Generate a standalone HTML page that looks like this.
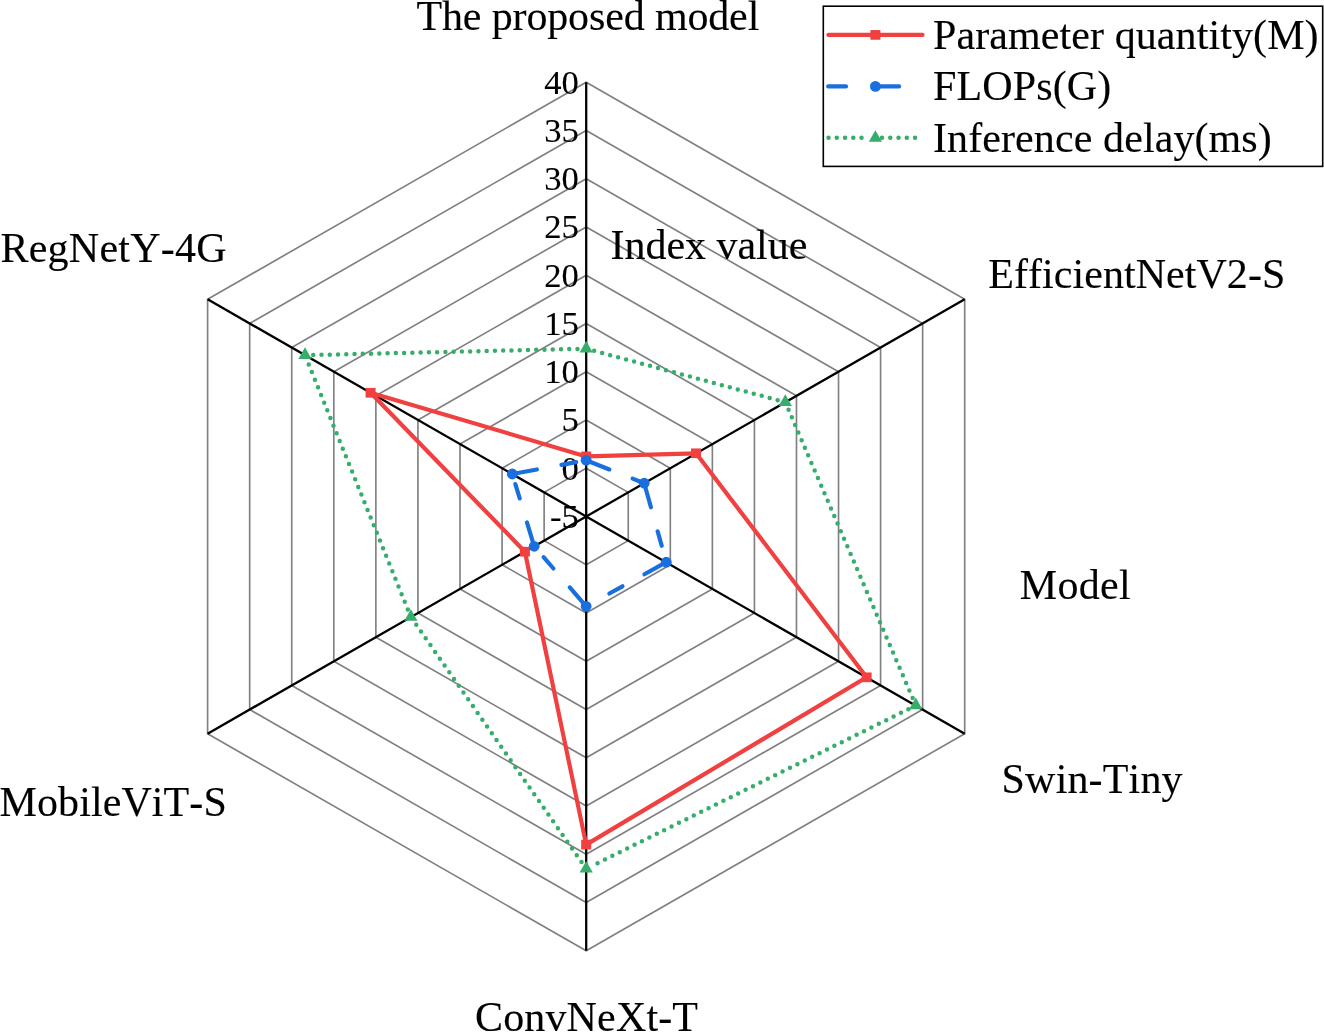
<!DOCTYPE html>
<html lang="en">
<head>
<meta charset="utf-8">
<title>Radar chart - model comparison</title>
<style>
html,body{margin:0;padding:0;background:#fff;}
body{width:1324px;height:1032px;overflow:hidden;}
svg{display:block;}
text{font-kerning:none;font-variant-ligatures:none;font-family:"Liberation Serif","Times New Roman",serif;font-size:42px;fill:#000;stroke:#000;stroke-width:0.12px;}
</style>
</head>
<body>
<svg width="1324" height="1032" viewBox="0 0 1324 1032">
<rect width="1324" height="1032" fill="#fff"/>
<g fill="none" stroke="#808080" stroke-width="1.65">
<polygon points="586.2,468.24 628.26,492.37 628.26,540.63 586.2,564.76 544.13,540.63 544.13,492.37"/>
<polygon points="586.2,419.99 670.31,468.23 670.31,564.77 586.2,613.01 502.07,564.77 502.07,468.23"/>
<polygon points="586.2,371.73 712.37,444.1 712.37,588.9 586.2,661.27 460,588.9 460,444.1"/>
<polygon points="586.2,323.48 754.42,419.97 754.42,613.03 586.2,709.52 417.93,613.03 417.93,419.97"/>
<polygon points="586.2,275.22 796.48,395.83 796.48,637.17 586.2,757.78 375.87,637.17 375.87,395.83"/>
<polygon points="586.2,226.97 838.53,371.7 838.53,661.3 586.2,806.03 333.8,661.3 333.8,371.7"/>
<polygon points="586.2,178.71 880.59,347.57 880.59,685.43 586.2,854.29 291.73,685.43 291.73,347.57"/>
<polygon points="586.2,130.46 922.64,323.43 922.64,709.57 586.2,902.54 249.67,709.57 249.67,323.43"/>
<polygon points="586.2,82.2 964.7,299.3 964.7,733.7 586.2,950.8 207.6,733.7 207.6,299.3"/>
</g>
<g text-anchor="end">
<text x="578.9" y="527.9" style="font-size:34.6px;stroke-width:0.12px">-5</text>
<text x="578.9" y="479.64" style="font-size:34.6px;stroke-width:0.12px">0</text>
<text x="578.9" y="431.39" style="font-size:34.6px;stroke-width:0.12px">5</text>
<text x="578.9" y="383.13" style="font-size:34.6px;stroke-width:0.12px">10</text>
<text x="578.9" y="334.88" style="font-size:34.6px;stroke-width:0.12px">15</text>
<text x="578.9" y="286.62" style="font-size:34.6px;stroke-width:0.12px">20</text>
<text x="578.9" y="238.37" style="font-size:34.6px;stroke-width:0.12px">25</text>
<text x="578.9" y="190.11" style="font-size:34.6px;stroke-width:0.12px">30</text>
<text x="578.9" y="141.86" style="font-size:34.6px;stroke-width:0.12px">35</text>
<text x="578.9" y="93.6" style="font-size:34.6px;stroke-width:0.12px">40</text>
</g>
<g stroke="#000" stroke-width="2.3" stroke-linecap="butt">
<line x1="586.2" y1="516.5" x2="586.2" y2="82.2"/>
<line x1="586.2" y1="516.5" x2="964.7" y2="299.3"/>
<line x1="586.2" y1="516.5" x2="964.7" y2="733.7"/>
<line x1="586.2" y1="516.5" x2="586.2" y2="950.8"/>
<line x1="586.2" y1="516.5" x2="207.6" y2="733.7"/>
<line x1="586.2" y1="516.5" x2="207.6" y2="299.3"/>
</g>
<text x="416.5" y="29.8" textLength="342.8" lengthAdjust="spacing">The proposed model</text>
<text x="0.4" y="261.5" textLength="226.3" lengthAdjust="spacing">RegNetY-4G</text>
<text x="988.3" y="287.7" textLength="297.0" lengthAdjust="spacing">EfficientNetV2-S</text>
<text x="1019.8" y="598.7" textLength="110.8" lengthAdjust="spacing">Model</text>
<text x="1001.6" y="792.9" textLength="181.0" lengthAdjust="spacing">Swin-Tiny</text>
<text x="-0.5" y="816.4" textLength="227.3" lengthAdjust="spacing">MobileViT-S</text>
<text x="475.0" y="1031.0" textLength="223.0" lengthAdjust="spacing">ConvNeXt-T</text>
<text x="610.5" y="259.2" textLength="196.9" lengthAdjust="spacing">Index value</text>
<g stroke="#F14040" fill="none" stroke-width="4.17" stroke-linejoin="round" stroke-linecap="round">
<polygon points="586.2,456.4 696.05,453.3 866.6,677.3 586.2,844.6 524.9,551.7 370.6,392.8"/>
</g>
<g fill="#F14040">
<rect x="581.2" y="451.55" width="10" height="9.7"/>
<rect x="691.05" y="448.45" width="10" height="9.7"/>
<rect x="861.6" y="672.45" width="10" height="9.7"/>
<rect x="581.2" y="839.75" width="10" height="9.7"/>
<rect x="519.9" y="546.85" width="10" height="9.7"/>
<rect x="365.6" y="387.95" width="10" height="9.7"/>
</g>
<g stroke="#1A6FDF" fill="none" stroke-width="4.17" stroke-linecap="round" stroke-dasharray="25 25 15 400">
<line x1="586.1" y1="460.3" x2="644.2" y2="483.2"/>
<line x1="644.2" y1="483.2" x2="666.3" y2="562.2"/>
<line x1="666.3" y1="562.2" x2="586.15" y2="606.3"/>
<line x1="586.15" y1="606.3" x2="534.2" y2="546.3"/>
<line x1="534.2" y1="546.3" x2="512.3" y2="474"/>
<line x1="512.3" y1="474" x2="586.1" y2="460.3"/>
</g>
<g fill="#1A6FDF">
<circle cx="586.1" cy="460.3" r="5.4"/>
<circle cx="644.2" cy="483.2" r="5.4"/>
<circle cx="666.3" cy="562.2" r="5.4"/>
<circle cx="586.15" cy="606.3" r="5.4"/>
<circle cx="534.2" cy="546.3" r="5.4"/>
<circle cx="512.3" cy="474" r="5.4"/>
</g>
<g stroke="#37AD6B" fill="none" stroke-width="4.5" stroke-linecap="round" stroke-dasharray="0 8.26">
<line x1="586.2" y1="348.7" x2="779.51" y2="400.64"/>
<line x1="785.3" y1="402.2" x2="913.43" y2="699.99"/>
<line x1="915.8" y1="705.5" x2="591.58" y2="866.14"/>
<line x1="586.2" y1="868.8" x2="414.33" y2="622.02"/>
<line x1="410.9" y1="617.1" x2="307.25" y2="360.76"/>
<line x1="305" y1="355.2" x2="580.2" y2="348.84"/>
</g>
<g fill="#37AD6B">
<polygon points="586.2,340.8 592.8,352.4 579.6,352.4"/>
<polygon points="785.3,394.3 791.9,405.9 778.7,405.9"/>
<polygon points="915.8,697.6 922.4,709.2 909.2,709.2"/>
<polygon points="586.2,860.9 592.8,872.5 579.6,872.5"/>
<polygon points="410.9,609.2 417.5,620.8 404.3,620.8"/>
<polygon points="305,347.3 311.6,358.9 298.4,358.9"/>
</g>
<rect x="823.3" y="6.2" width="499.4" height="160.2" fill="#fff" stroke="#000" stroke-width="1.6"/>
<line x1="828.4" y1="34.9" x2="922.5" y2="34.9" stroke="#F14040" stroke-width="4.17" stroke-linecap="round"/>
<rect x="870.4" y="30.049999999999997" width="10" height="9.7" fill="#F14040"/>
<g stroke="#1A6FDF" stroke-width="4.17" stroke-linecap="round"><line x1="828.2" y1="86.4" x2="846" y2="86.4"/><line x1="876" y1="86.4" x2="899.1" y2="86.4"/></g>
<circle cx="875.4" cy="86.4" r="5.4" fill="#1A6FDF"/>
<g stroke="#37AD6B" stroke-width="4.5" stroke-linecap="round" stroke-dasharray="0 8.26"><line x1="828.5" y1="137.8" x2="866" y2="137.8"/><line x1="882" y1="137.8" x2="919" y2="137.8"/></g>
<g fill="#37AD6B"><polygon points="875.4,130.15 882,141.75 868.8,141.75"/></g>
<text x="933" y="48.8" textLength="385.6" lengthAdjust="spacing">Parameter quantity(M)</text>
<text x="933" y="100.1" textLength="178.3" lengthAdjust="spacing">FLOPs(G)</text>
<text x="933" y="151.7" textLength="338.8" lengthAdjust="spacing">Inference delay(ms)</text>
</svg>
</body>
</html>
